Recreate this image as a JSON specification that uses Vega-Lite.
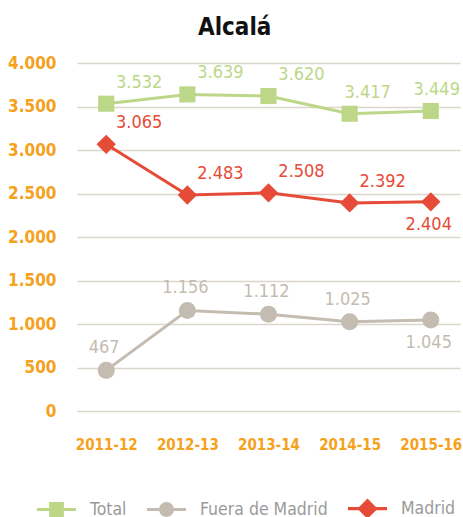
{
  "$schema": "https://vega.github.io/schema/vega-lite/v6.json",
  "autosize": {"type": "none"},
  "width": 383,
  "height": 348,
  "padding": {"left": 77, "top": 63, "right": 3, "bottom": 106},
  "background": "white",
  "title": {"text": "Alcalá", "font": "DejaVu Sans Condensed, Roboto", "fontSize": 24, "fontWeight": "bold", "color": "#111111", "anchor": "middle", "frame": "bounds", "offset": 14},
  "config": {
    "view": {"stroke": null},
    "locale": {"number": {"decimal": ",", "thousands": ".", "grouping": [3], "currency": ["", " €"]}}
  },
  "data": {
    "values": [
      {"series": "Total", "year": "2011-12", "value": 3532},
      {"series": "Total", "year": "2012-13", "value": 3639},
      {"series": "Total", "year": "2013-14", "value": 3620},
      {"series": "Total", "year": "2014-15", "value": 3417},
      {"series": "Total", "year": "2015-16", "value": 3449},
      {"series": "Fuera de Madrid", "year": "2011-12", "value": 467},
      {"series": "Fuera de Madrid", "year": "2012-13", "value": 1156},
      {"series": "Fuera de Madrid", "year": "2013-14", "value": 1112},
      {"series": "Fuera de Madrid", "year": "2014-15", "value": 1025},
      {"series": "Fuera de Madrid", "year": "2015-16", "value": 1045},
      {"series": "Madrid", "year": "2011-12", "value": 3065},
      {"series": "Madrid", "year": "2012-13", "value": 2483},
      {"series": "Madrid", "year": "2013-14", "value": 2508},
      {"series": "Madrid", "year": "2014-15", "value": 2392},
      {"series": "Madrid", "year": "2015-16", "value": 2404}
    ]
  },
  "encoding": {
    "x": {"field": "year", "type": "ordinal", "scale": {"type": "point", "padding": 0.36},
      "axis": {"title": null, "labelAngle": 0, "domain": false, "ticks": false, "grid": false, "labelPadding": 26, "labelColor": "#f5a11c", "labelFont": "DejaVu Sans Condensed, Roboto", "labelFontWeight": "bold", "labelFontSize": 15}},
    "y": {"field": "value", "type": "quantitative", "scale": {"domain": [0, 4000], "nice": false},
      "axis": {"title": null, "values": [0, 500, 1000, 1500, 2000, 2500, 3000, 3500, 4000], "format": ",.0f", "domain": false, "ticks": false, "grid": true, "gridColor": "#dcd5cc", "gridWidth": 1.5, "labelPadding": 21, "labelColor": "#f5a11c", "labelFont": "DejaVu Sans Condensed, Roboto", "labelFontWeight": "bold", "labelFontSize": 17}},
    "color": {"field": "series", "type": "nominal", "scale": {"domain": ["Total", "Fuera de Madrid", "Madrid"], "range": ["#bdd789", "#c4bcb1", "#e64b37"]},
      "legend": {"title": null, "orient": "none", "direction": "horizontal", "legendX": -40, "legendY": 426, "padding": 0, "offset": 0,
        "symbolSize": 1521, "symbolStrokeWidth": 0, "symbolOpacity": 1, "labelOffset": 14, "columnPadding": 20,
        "labelFont": "DejaVu Sans Condensed, Roboto", "labelFontSize": 17.5, "labelColor": "#9a9a9a"}}
  },
  "layer": [
    {
      "mark": {"type": "point", "filled": true, "opacity": 1, "size": 1},
      "encoding": {
        "shape": {"field": "series", "type": "nominal", "scale": {"domain": ["Total", "Fuera de Madrid", "Madrid"], "range": [
          "M-1,-0.08H-0.38V0.08H-1Z M0.38,-0.08H1V0.08H0.38Z M-0.38,-0.38H0.38V0.38H-0.38Z",
          "M-1,-0.08H-0.37V0.08H-1Z M0.37,-0.08H1V0.08H0.37Z M-0.38,0A0.38,0.38,0,1,1,0.38,0A0.38,0.38,0,1,1,-0.38,0Z",
          "M-1,-0.08H-0.44V0.08H-1Z M0.44,-0.08H1V0.08H0.44Z M-0.52,0L0,-0.52L0.52,0L0,0.52Z"]},
          "legend": {"title": null}}
      }
    },
    {"mark": {"type": "line", "strokeWidth": 3}, "encoding": {"detail": {"field": "series"}}},
    {
      "transform": [{"filter": "datum.series === 'Total'"}],
      "mark": {"type": "point", "filled": true, "opacity": 1, "size": 260, "shape": "square"}
    },
    {
      "transform": [{"filter": "datum.series === 'Fuera de Madrid'"}],
      "mark": {"type": "point", "filled": true, "opacity": 1, "size": 290, "shape": "circle"}
    },
    {
      "transform": [{"filter": "datum.series === 'Madrid'"}],
      "mark": {"type": "point", "filled": true, "opacity": 1, "size": 260, "shape": "M-1.2,0L0,-1.2L1.2,0L0,1.2Z"}
    },
    {
      "transform": [{"filter": "(datum.series === 'Total' && (datum.year === '2011-12' || datum.year === '2012-13' || datum.year === '2013-14')) || (datum.series === 'Madrid' && datum.year !== '2015-16')"}],
      "mark": {"type": "text", "dx": 33, "dy": -21, "font": "DejaVu Sans Condensed, Roboto", "fontSize": 18, "baseline": "middle", "align": "center"},
      "encoding": {"text": {"field": "value", "type": "quantitative", "format": ",.0f"}}
    },
    {
      "transform": [{"filter": "datum.series === 'Total' && datum.year === '2014-15'"}],
      "mark": {"type": "text", "dx": 18, "dy": -21, "font": "DejaVu Sans Condensed, Roboto", "fontSize": 18, "baseline": "middle", "align": "center"},
      "encoding": {"text": {"field": "value", "type": "quantitative", "format": ",.0f"}}
    },
    {
      "transform": [{"filter": "datum.series === 'Total' && datum.year === '2015-16'"}],
      "mark": {"type": "text", "dx": 6, "dy": -21, "font": "DejaVu Sans Condensed, Roboto", "fontSize": 18, "baseline": "middle", "align": "center"},
      "encoding": {"text": {"field": "value", "type": "quantitative", "format": ",.0f"}}
    },
    {
      "transform": [{"filter": "datum.series === 'Fuera de Madrid' && datum.year !== '2015-16'"}],
      "mark": {"type": "text", "dx": -2, "dy": -22, "font": "DejaVu Sans Condensed, Roboto", "fontSize": 18, "baseline": "middle", "align": "center"},
      "encoding": {"text": {"field": "value", "type": "quantitative", "format": ",.0f"}}
    },
    {
      "transform": [{"filter": "datum.series !== 'Total' && datum.year === '2015-16'"}],
      "mark": {"type": "text", "dx": -2, "dy": 23, "font": "DejaVu Sans Condensed, Roboto", "fontSize": 18, "baseline": "middle", "align": "center"},
      "encoding": {"text": {"field": "value", "type": "quantitative", "format": ",.0f"}}
    }
  ]
}
